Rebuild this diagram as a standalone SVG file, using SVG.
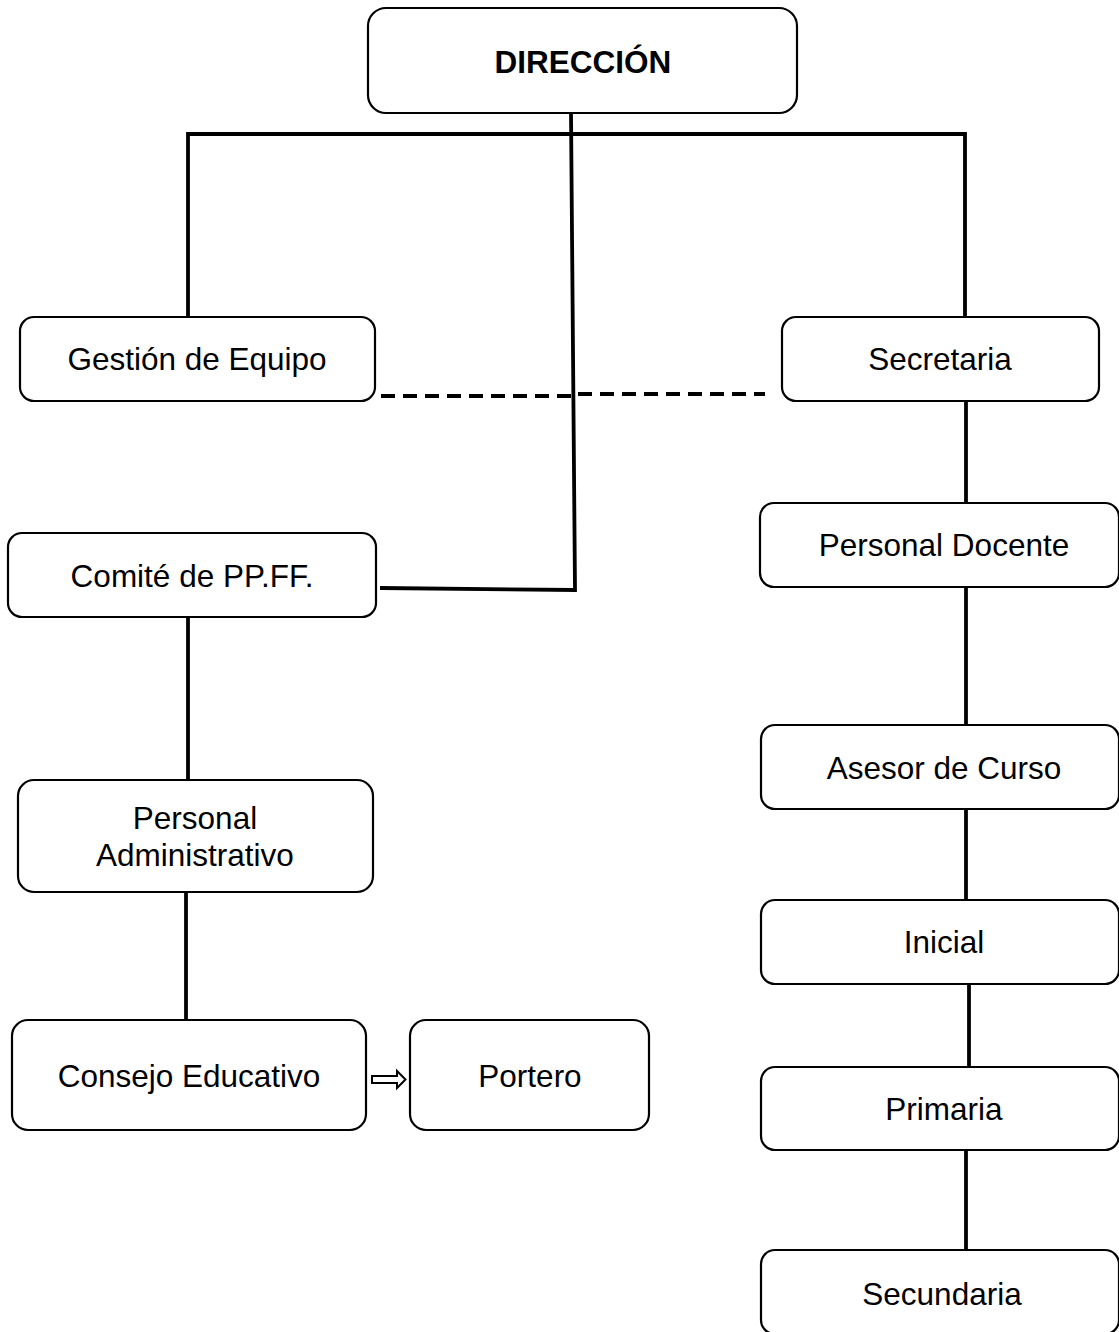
<svg xmlns="http://www.w3.org/2000/svg" width="1119" height="1332" viewBox="0 0 1119 1332">
<style>
.box{fill:#fff;stroke:#000;stroke-width:2.2}
.t{font-family:"Liberation Sans",Arial,sans-serif;font-size:31.5px;fill:#000;text-anchor:middle}
.b{font-weight:bold}
.ln{stroke:#000;stroke-width:3.8;fill:none}
.dash{stroke:#000;stroke-width:4;fill:none;stroke-dasharray:14 8}
</style>
<rect width="1119" height="1332" fill="#fff"/>
<g id="connectors">
<path class="ln" d="M188 317 V134 H965 V317"/>
<path class="ln" d="M571 113 L575 590 L380 588"/>
<path class="dash" d="M381 396 H575"/>
<path class="dash" d="M578 394 H765"/>
<path class="ln" d="M966 401 V503"/>
<path class="ln" d="M966 587 V725"/>
<path class="ln" d="M966 809 V900"/>
<path class="ln" d="M969 984 V1069"/>
<path class="ln" d="M966 1150 V1250"/>
<path class="ln" d="M188 617 V780"/>
<path class="ln" d="M186 892 V1020"/>
<polygon points="372,1076 397,1076 397,1071 405.5,1079.5 397,1088 397,1083 372,1083" fill="#fff" stroke="#000" stroke-width="2"/>
</g>
<g id="direccion"><rect class="box" x="368" y="8" width="429" height="105" rx="18"/><text class="t b" x="583" y="73">DIRECCIÓN</text></g>
<g id="gestion"><rect class="box" x="20" y="317" width="355" height="84" rx="14"/><text class="t" x="197" y="370">Gestión de Equipo</text></g>
<g id="secretaria"><rect class="box" x="782" y="317" width="317" height="84" rx="14"/><text class="t" x="940" y="370">Secretaria</text></g>
<g id="comite"><rect class="box" x="8" y="533" width="368" height="84" rx="14"/><text class="t" x="192" y="587">Comité de PP.FF.</text></g>
<g id="personal-docente"><rect class="box" x="760" y="503" width="359" height="84" rx="14"/><text class="t" x="944" y="556">Personal Docente</text></g>
<g id="asesor"><rect class="box" x="761" y="725" width="358" height="84" rx="14"/><text class="t" x="944" y="779">Asesor de Curso</text></g>
<g id="inicial"><rect class="box" x="761" y="900" width="358" height="84" rx="14"/><text class="t" x="944" y="953">Inicial</text></g>
<g id="primaria"><rect class="box" x="761" y="1067" width="358" height="83" rx="14"/><text class="t" x="944" y="1120">Primaria</text></g>
<g id="secundaria"><rect class="box" x="761" y="1250" width="358" height="84" rx="14"/><text class="t" x="942" y="1305">Secundaria</text></g>
<g id="personal-admin"><rect class="box" x="18" y="780" width="355" height="112" rx="16"/><text class="t" x="195" y="829">Personal</text><text class="t" x="195" y="866">Administrativo</text></g>
<g id="consejo"><rect class="box" x="12" y="1020" width="354" height="110" rx="16"/><text class="t" x="189" y="1087">Consejo Educativo</text></g>
<g id="portero"><rect class="box" x="410" y="1020" width="239" height="110" rx="16"/><text class="t" x="530" y="1087">Portero</text></g>
</svg>
